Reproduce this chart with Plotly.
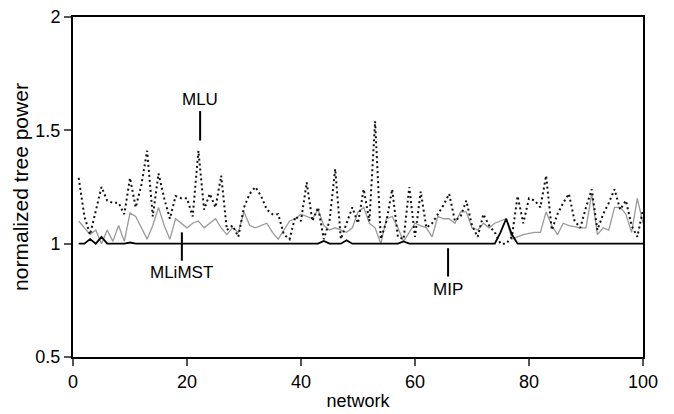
import plotly.graph_objects as go

networks = list(range(1, 101))

mlu = [1.29, 1.12, 1.04, 1.15, 1.25, 1.19, 1.18, 1.18, 1.13, 1.29,
       1.16, 1.26, 1.41, 1.12, 1.31, 1.20, 1.11, 1.21, 1.20, 1.20,
       1.12, 1.41, 1.15, 1.22, 1.16, 1.30, 1.06, 1.08, 1.03, 1.16,
       1.22, 1.25, 1.21, 1.15, 1.13, 1.13, 1.04, 1.02, 1.12, 1.10,
       1.27, 1.10, 1.16, 1.02, 1.10, 1.33, 1.02, 1.09, 1.16, 1.09,
       1.24, 1.10, 1.54, 1.02, 1.10, 1.24, 1.03, 1.02, 1.25, 1.03,
       1.23, 1.07, 1.09, 1.13, 1.17, 1.22, 1.10, 1.12, 1.19, 1.08,
       1.03, 1.13, 1.08, 1.05, 1.00, 1.00, 1.03, 1.21, 1.09, 1.20,
       1.19, 1.16, 1.30, 1.06, 1.13, 1.18, 1.22, 1.10, 1.07, 1.16,
       1.24, 1.06, 1.13, 1.18, 1.24, 1.15, 1.19, 1.08, 1.03, 1.15]

mlimst = [1.10, 1.07, 1.04, 1.06, 1.00, 1.06, 1.01, 1.08, 1.01, 1.135,
          1.12, 1.07, 1.02, 1.08, 1.16, 1.08, 1.02, 1.11, 1.09, 1.07,
          1.09, 1.10, 1.07, 1.09, 1.11, 1.07, 1.04, 1.07, 1.05, 1.14,
          1.08, 1.07, 1.08, 1.09, 1.05, 1.02, 1.06, 1.10, 1.11, 1.13,
          1.12, 1.11, 1.15, 1.08, 1.06, 1.07, 1.06, 1.05, 1.07, 1.14,
          1.16, 1.09, 1.07, 1.00, 1.11, 1.12, 1.07, 1.01, 1.05, 1.09,
          1.08, 1.07, 1.03, 1.12, 1.11, 1.11, 1.09, 1.14, 1.14, 1.07,
          1.06, 1.09, 1.07, 1.09, 1.10, 1.11, 1.02, 1.03, 1.04, 1.045,
          1.05, 1.05, 1.14, 1.08, 1.04, 1.09, 1.08, 1.075, 1.07, 1.07,
          1.22, 1.04, 1.07, 1.06, 1.16, 1.16, 1.13, 1.05, 1.20, 1.09]

mip = [1.00, 1.00, 1.02, 1.00, 1.03, 1.00, 1.00, 1.00, 1.00, 1.005,
       1.00, 1.00, 1.00, 1.00, 1.00, 1.00, 1.00, 1.00, 1.00, 1.00,
       1.00, 1.00, 1.00, 1.00, 1.00, 1.00, 1.00, 1.00, 1.00, 1.00,
       1.00, 1.00, 1.00, 1.00, 1.00, 1.00, 1.00, 1.00, 1.00, 1.00,
       1.00, 1.00, 1.00, 1.012, 1.00, 1.00, 1.00, 1.015, 1.00, 1.00,
       1.00, 1.00, 1.00, 1.00, 1.00, 1.00, 1.00, 1.01, 1.00, 1.00,
       1.00, 1.00, 1.00, 1.00, 1.00, 1.00, 1.00, 1.00, 1.00, 1.00,
       1.00, 1.00, 1.00, 1.00, 1.05, 1.11, 1.04, 1.00, 1.00, 1.00,
       1.00, 1.00, 1.00, 1.00, 1.00, 1.00, 1.00, 1.00, 1.00, 1.00,
       1.00, 1.00, 1.00, 1.00, 1.00, 1.00, 1.00, 1.00, 1.00, 1.00]

y_tick_vals = [0.5, 1, 1.5, 2]
y_tick_text = ["0.5", "1", "1.5", "2"]
x_tick_vals = [0, 20, 40, 60, 80, 100]

# annotation labels: (text, x, label y, line y0, line y1)
labels = [("MLU", 22.3, 1.635, 1.455, 1.585),
          ("MLiMST", 19.1, 0.875, 0.925, 1.05),
          ("MIP", 65.8, 0.80, 0.855, 0.98)]

FONT = "Liberation Sans, Arial, Helvetica, sans-serif"

fig = go.Figure()
fig.add_trace(go.Scatter(x=networks, y=mlimst, mode="lines", name="MLiMST",
                         line=dict(color="#9a9a9a", width=1.3)))
fig.add_trace(go.Scatter(x=networks, y=mlu, mode="lines", name="MLU",
                         line=dict(color="#111111", width=2, dash="2px,3px")))
fig.add_trace(go.Scatter(x=networks, y=mip, mode="lines", name="MIP",
                         line=dict(color="#000000", width=1.8)))

for text, lx, ty, y0, y1 in labels:
    fig.add_shape(type="line", x0=lx, x1=lx, y0=y0, y1=y1, xref="x", yref="y",
                  line=dict(color="black", width=2))
    fig.add_annotation(x=lx, y=ty, text=text, showarrow=False, xref="x", yref="y",
                       font=dict(size=17, color="black", family=FONT))

fig.update_layout(
    width=674, height=414,
    margin=dict(l=73, r=31, t=17, b=57, autoexpand=False),
    paper_bgcolor="white", plot_bgcolor="white",
    showlegend=False,
    font=dict(family=FONT, size=18, color="black"),
)
fig.update_xaxes(range=[0, 100], tickvals=x_tick_vals, showgrid=False, zeroline=False,
                 showline=True, linecolor="black", linewidth=2, mirror=True,
                 ticks="outside", ticklen=7, tickwidth=2, tickcolor="#555",
                 automargin=False, tickfont=dict(size=18),
                 title=dict(text="network", standoff=4, font=dict(size=18)))
fig.update_yaxes(range=[0.5, 2], tickvals=y_tick_vals, ticktext=y_tick_text,
                 showgrid=False, zeroline=False,
                 showline=True, linecolor="black", linewidth=2, mirror=True,
                 ticks="outside", ticklen=7, tickwidth=2, tickcolor="#555",
                 automargin=False, tickfont=dict(size=18),
                 title=dict(text="normalized tree power", standoff=1, font=dict(size=21)))

fig.write_html("out.html", post_script="document.body.style.margin='0';",
               config={"displayModeBar": False})
